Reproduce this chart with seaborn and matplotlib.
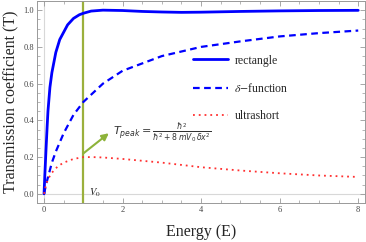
import numpy as np
import pandas as pd
import matplotlib
matplotlib.use("Agg")
import matplotlib.pyplot as plt
from matplotlib.ticker import MultipleLocator
import seaborn as sns

# ---- data ----
rect_E = [0, 0.02, 0.05, 0.08, 0.1, 0.15, 0.2, 0.3, 0.4, 0.5, 0.6, 0.75, 0.9, 1.0,
          1.2, 1.5, 2.0, 2.5, 3.0, 3.5, 4.0, 5.0, 6.0, 7.0, 8.0]
rect_T = [0, 0.10, 0.24, 0.37, 0.45, 0.58, 0.66, 0.77, 0.84, 0.88, 0.92, 0.955, 0.975, 0.983,
          0.995, 1.0, 0.998, 0.993, 0.99, 0.988, 0.989, 0.993, 0.996, 0.998, 0.999]

delta_E = [0, 0.05, 0.1, 0.2, 0.3, 0.5, 0.75, 1, 1.5, 2, 2.5, 3, 4, 5, 6, 7, 8]
delta_T = [0, 0.05, 0.09, 0.17, 0.23, 0.33, 0.43, 0.5, 0.6, 0.67, 0.71, 0.75, 0.8, 0.83,
           0.857, 0.875, 0.889]

ultra_E = [0, 0.05, 0.1, 0.2, 0.35, 0.5, 0.75, 1, 1.25, 1.5, 2, 2.5, 3, 4, 5, 6, 7, 8]
ultra_T = [0, 0.05, 0.08, 0.115, 0.15, 0.17, 0.19, 0.2, 0.2, 0.198, 0.19, 0.18, 0.17,
           0.145, 0.127, 0.112, 0.10, 0.092]

V0 = 1.0
labels = ["rectangle", r"$\delta$$-$function", "ultrashort"]
x_ticks = [0, 2, 4, 6, 8]
y_ticks = [0.0, 0.2, 0.4, 0.6, 0.8, 1.0]

sns.set_style("ticks")
plt.rcParams["font.family"] = ["Liberation Serif", "DejaVu Serif"]
plt.rcParams["mathtext.fontset"] = "stix"

fig = plt.figure(figsize=(3.66, 2.42), dpi=100)
ax = fig.add_axes([0.101, 0.161, 0.896, 0.835])

green = "#9bb03c"
blue = "#0000ff"
red = "#ff3030"

# Mathematica-like axes lines
ax.axhline(0, color="#d8d8d8", lw=0.8, zorder=0)
ax.axvline(0, color="#d8d8d8", lw=0.8, zorder=0)

ax.axvline(V0, color=green, lw=1.6, zorder=1)

df_r = pd.DataFrame({"E": rect_E, "T": rect_T})
df_d = pd.DataFrame({"E": delta_E, "T": delta_T})
df_u = pd.DataFrame({"E": ultra_E, "T": ultra_T})

sns.lineplot(data=df_r, x="E", y="T", ax=ax, color=blue, lw=2.0, label=labels[0], zorder=3)
sns.lineplot(data=df_d, x="E", y="T", ax=ax, color=blue, lw=1.6, label=labels[1],
             dashes=False, zorder=3)
sns.lineplot(data=df_u, x="E", y="T", ax=ax, color=red, lw=1.3, label=labels[2], zorder=3)
ax.lines[-2].set_dashes((3, 2))
ax.lines[-1].set_dashes((1, 2.2))

ax.set_xlim(-0.18, 8.17)
ax.set_ylim(-0.05, 1.05)
ax.set_xticks(x_ticks)
ax.set_yticks(y_ticks)
ax.set_xticklabels([str(t) for t in x_ticks])
ax.set_yticklabels([f"{t:.1f}" for t in y_ticks])
ax.xaxis.set_minor_locator(MultipleLocator(0.5))
ax.yaxis.set_minor_locator(MultipleLocator(0.05))
ax.tick_params(which="both", direction="in", top=True, right=True, color="#999999",
               labelsize=6, labelcolor="#444444", pad=2)
ax.tick_params(which="major", length=3.5, width=0.6)
ax.tick_params(which="minor", length=2, width=0.5)
for s in ax.spines.values():
    s.set_color("#999999")
    s.set_linewidth(0.7)

ax.set_xlabel("Energy (E)", fontsize=11.5, labelpad=7)
ax.set_ylabel("Transmission coefficient (T)", fontsize=11.5, labelpad=3)

ax.annotate("", xy=(1.65, 0.33), xytext=(V0, 0.22),
            arrowprops=dict(arrowstyle="-|>", color="#8db33a", lw=1.5,
                            mutation_scale=10, shrinkA=0, shrinkB=0))
ax.text(1.75, 0.335, r"$T_{peak}=\frac{\hbar^2}{\hbar^2+8\,m V_0\,\delta x^2}$",
        fontsize=8, va="center", ha="left", color="#333333",
        math_fontfamily="dejavusans")
ax.text(1.15, -0.03, r"$V_0$", fontsize=7.5, color="#222222", va="bottom")

leg = ax.legend(loc="upper left", bbox_to_anchor=(0.476, 0.735), frameon=False,
                fontsize=8.5, handlelength=3.0, handletextpad=0.5, labelspacing=1.3,
                borderaxespad=0, borderpad=0)

fig.savefig("out.png", dpi=100)
